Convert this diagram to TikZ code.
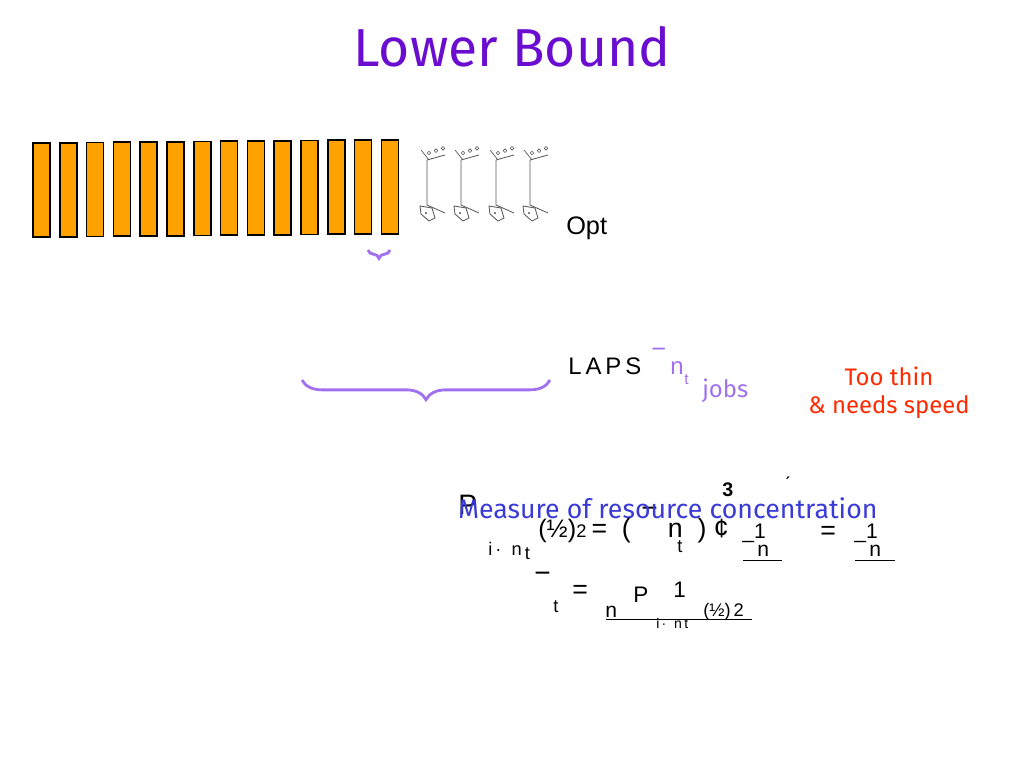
\documentclass[tikz,border=0pt]{standalone}
\usepackage{fontspec}
\setmainfont{Liberation Sans}
\newfontfamily\comicfont{Fira Sans}
\usetikzlibrary{positioning,decorations.pathreplacing}
\definecolor{titlepurple}{HTML}{6A0DD0}
\definecolor{bracepurple}{HTML}{A070F0}
\definecolor{barorange}{HTML}{FFA200}
\definecolor{notered}{HTML}{FF2A00}
\definecolor{measureblue}{HTML}{3A3AD8}

\begin{document}
\begin{tikzpicture}[x=0.025cm,y=-0.025cm,
 bar/.style={draw=black,fill=barorange,line width=1.2pt},
 plain/.style={inner sep=0pt,anchor=base west},
 brace/.style={draw=bracepurple,line width=2pt,decorate,decoration={brace,amplitude=#1}}]
  \useasboundingbox (0,0) rectangle (1024,768);

  \node[font=\comicfont\fontsize{38}{42}\selectfont,text=titlepurple] (title) at (512,47) {Lower Bound};

  % machines of width one
  \foreach \i in {0,...,13}
    \draw[bar] ({33+26.8*\i},{143-0.25*\i}) rectangle ++(17,94);

  % stick figures
  \foreach \x [count=\k] in {427,461,496,530} {
    \draw[gray!70!black,line width=0.6pt] (\x,160) -- (\x,205) -- ++(18,8);
    \draw[gray!70!black,line width=0.6pt] (\x,160) -- ++(18,-5);
    \draw[gray!70!black,line width=0.5pt] (\x-6,150) -- (\x+2,160);
    \foreach \d in {0,7,14} \draw[gray!70!black] (\x+2+\d,{153-\d/3}) circle (1.8);
    \draw[gray!70!black,line width=0.6pt] (\x-7,206) -- (\x+5,208) -- (\x+8,218) -- (\x+2,221) -- (\x-6,214) -- cycle;
    \fill (\x-1,213) circle (0.8);
  }

  \node[plain,font=\fontsize{18}{20}\selectfont] (opt) at (566,234) {Opt};

  % braces
  \draw[brace=6] (390,250) -- (368,250);
  \draw[brace=14] (550,380) -- (302,380);

  % LAPS line
  \node[plain,font=\fontsize{17}{20}\selectfont] (laps) at (568,374) {L\,A\,P\,S};
  \node[plain,text=bracepurple,font=\fontsize{18}{20}\selectfont] (beta) at (651,357) {\textminus};
  \node[plain,text=bracepurple,font=\fontsize{17}{20}\selectfont] (nt) at (670,374) {n};
  \node[plain,text=bracepurple,font=\fontsize{11}{14}\selectfont] (ntsub) at (684,384) {t};
  \node[plain,text=bracepurple,font=\comicfont\fontsize{17}{20}\selectfont] (jobs) at (702,397) {jobs};

  \node[text=notered,font=\comicfont\fontsize{17}{20}\selectfont,align=center] (thin) at (889,393) {Too thin\\\& needs speed};

  % concentration formula
  \node[plain,font=\fontsize{20}{22}\selectfont] (sumP) at (458,514) {P};
  \node[plain,font=\fontsize{14}{16}\selectfont] (three) at (722,496) {\textbf{3}};
  \node[plain,font=\fontsize{14}{16}\selectfont] (prime) at (784,494) {\'{}};
  \node[plain,font=\fontsize{20}{22}\selectfont] (bar1) at (641,517) {\textminus};
  \node[plain,text=measureblue,font=\comicfont\fontsize{19}{22}\selectfont] (measure) at (458,518) {Measure of resource concentration};
  \node[plain,font=\fontsize{18}{20}\selectfont] (lhs) at (538,537) {(\textonehalf)\fontsize{13}{14}\selectfont 2\ \fontsize{19}{20}\selectfont =\ \ (\ \ \ \ \ n\ \ )\ \textcent};
  \node[plain,font=\fontsize{13}{15}\selectfont] (sub1) at (488,555) {i\,\textperiodcentered\ \ n\,\raisebox{-3pt}{t}};
  \node[plain,font=\fontsize{13}{15}\selectfont] (tsub) at (677,552) {t};
  \node[plain,font=\fontsize{15}{16}\selectfont] (fr1) at (742,538) {\textunderscore 1};
  \node[plain,font=\fontsize{15}{16}\selectfont] (fr1n) at (757,556) {n};
  \draw (743,560) -- (782,560);
  \node[plain,font=\fontsize{19}{20}\selectfont] (eq2) at (820,539) {=};
  \node[plain,font=\fontsize{15}{16}\selectfont] (fr2) at (854,538) {\textunderscore 1};
  \node[plain,font=\fontsize{15}{16}\selectfont] (fr2n) at (869,556) {n};
  \draw (855,560) -- (895,560);

  % beta_t formula
  \node[plain,font=\fontsize{20}{22}\selectfont] (beta2) at (534,582) {\textminus};
  \node[plain,font=\fontsize{13}{15}\selectfont] (tt) at (553,612) {t};
  \node[plain,font=\fontsize{19}{20}\selectfont] (eq3) at (572,598) {=};
  \node[plain,font=\fontsize{16}{18}\selectfont] (pp) at (633,602) {P};
  \node[plain,font=\fontsize{16}{18}\selectfont] (one) at (673,597) {1};
  \node[plain,font=\fontsize{15}{16}\selectfont] (ntd) at (605,617) {n};
  \node[plain,font=\fontsize{13}{15}\selectfont] (half) at (703,616) {(\textonehalf)\,2};
  \node[plain,font=\fontsize{10}{12}\selectfont] (sub2) at (656,628) {i\,\textperiodcentered\ \ n\,t};
  \draw (606,619) -- (752,619);
\end{tikzpicture}
\end{document}
